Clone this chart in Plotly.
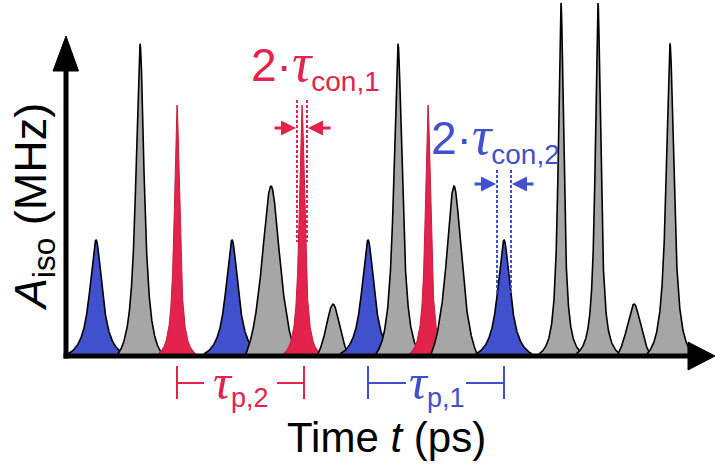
import numpy as np
import plotly.graph_objects as go

# ---------------- data ----------------
peak_time = [3.0, 7.4, 11.1, 16.6, 20.5, 23.6, 26.7, 30.2, 33.2, 36.2, 38.8, 43.8, 49.5, 53.2, 56.8, 60.4]
peak_amp = [11.4, 31.0, 24.9, 11.4, 16.8, 24.9, 5.0, 11.4, 31.0, 24.9, 16.8, 11.4, 35.1, 35.1, 5.0, 31.0]
peak_width = [0.75, 0.5, 0.32, 0.75, 1.2, 0.32, 1.0, 0.75, 0.5, 0.32, 1.0, 0.75, 0.32, 0.32, 1.0, 0.46]
peak_extent = [2.8, 2.2, 1.9, 2.8, 2.5, 1.9, 1.5, 2.8, 2.2, 1.9, 2.3, 2.8, 2.2, 2.2, 1.6, 2.3]
peak_kind = ["B", "G", "R", "B", "G", "R", "G", "B", "G", "R", "G", "B", "G", "G", "G", "G"]

con1_half = 0.5   # half of 2*tau_con,1 window
con2_half = 0.7   # half of 2*tau_con,2 window

# ---------------- styles ----------------
BLUE = "#4150CC"
RED = "#E4234C"
GRAY = "#A6A6A6"
FILL = {"B": BLUE, "G": GRAY, "R": RED}
EDGE = {"B": "black", "G": "black", "R": "#C41F40"}
FONT = "Liberation Sans, Arial, sans-serif"

fig = go.Figure()

for t0, a, g, e, k in zip(peak_time, peak_amp, peak_width, peak_extent, peak_kind):
    t = np.linspace(t0 - e, t0 + e, 801)
    L = 1.0 / (1.0 + ((t - t0) / g) ** 2)
    c = 1.0 / (1.0 + (e / g) ** 2)
    y = a * (L - c) / (1 - c)
    fig.add_trace(go.Scatter(
        x=t, y=y, mode="lines", fill="tozeroy", fillcolor=FILL[k],
        line=dict(color=EDGE[k], width=1.6 if k != "R" else 1.0),
        hoverinfo="skip", showlegend=False))

shapes = []
# axes with arrows
shapes.append(dict(type="line", x0=0, x1=0, y0=-0.45, y1=28.6, xref="x", yref="y",
                   line=dict(color="black", width=5)))
shapes.append(dict(type="path", path="M -1.3 28.3 L 1.25 28.3 L 0 31.8 Z", xref="x", yref="y",
                   fillcolor="black", line=dict(color="black", width=1)))
shapes.append(dict(type="line", x0=-0.25, x1=62.4, y0=-0.2, y1=-0.2, xref="x", yref="y",
                   line=dict(color="black", width=5)))
shapes.append(dict(type="path", path="M 62.2 1.2 L 62.2 -1.6 L 64.9 -0.2 Z", xref="x", yref="y",
                   fillcolor="black", line=dict(color="black", width=1)))

# tau_con dotted markers
r6 = peak_time[5]
b12 = peak_time[11]
for xv in (r6 - con1_half, r6 + con1_half):
    shapes.append(dict(type="line", x0=xv, x1=xv, y0=25.4, y1=11.2, xref="x", yref="y",
                       line=dict(color=RED, width=2, dash="3px,2px")))
for xv in (b12 - con2_half, b12 + con2_half):
    shapes.append(dict(type="line", x0=xv, x1=xv, y0=18.4, y1=5.9, xref="x", yref="y",
                       line=dict(color=BLUE, width=2, dash="3px,2px")))

# tau_p brackets
def bracket(t1, t2, gap, col, yb=-2.9):
    mid = (t1 + t2) / 2
    out = []
    for xv in (t1, t2):
        out.append(dict(type="line", x0=xv, x1=xv, y0=-1.2, y1=-4.5, xref="x", yref="y",
                        line=dict(color=col, width=2)))
    out.append(dict(type="line", x0=t1, x1=mid - gap, y0=yb, y1=yb, xref="x", yref="y",
                    line=dict(color=col, width=2)))
    out.append(dict(type="line", x0=mid + gap, x1=t2, y0=yb, y1=yb, xref="x", yref="y",
                    line=dict(color=col, width=2)))
    return out, mid

s2, mid2 = bracket(peak_time[2], peak_time[5] + 0.2, 3.65, RED)
s1, mid1 = bracket(peak_time[7], peak_time[11], 3.0, BLUE)
shapes += s2 + s1


def tau(size):
    return '<span style="font-family:Liberation Serif;font-size:%dpx"><i>τ</i></span>' % size


def sub(txt, size):
    return '<sub><span style="font-size:%dpx">%s</span></sub>' % (size, txt)


annotations = [
    dict(x=mid2, y=-2.9, xref="x", yref="y", text=tau(50) + sub("p,2", 27), showarrow=False,
         font=dict(family=FONT, size=36, color=RED), xanchor="center", yanchor="middle"),
    dict(x=mid1, y=-2.9, xref="x", yref="y", text=tau(50) + sub("p,1", 27), showarrow=False,
         font=dict(family=FONT, size=36, color=BLUE), xanchor="center", yanchor="middle"),
    dict(x=18.3, y=28.9, xref="x", yref="y", text="2·" + tau(54) + sub("con,1", 28), showarrow=False,
         font=dict(family=FONT, size=46, color=RED), xanchor="left", yanchor="middle"),
    dict(x=36.3, y=21.6, xref="x", yref="y", text="2·" + tau(54) + sub("con,2", 28), showarrow=False,
         font=dict(family=FONT, size=46, color=BLUE), xanchor="left", yanchor="middle"),
    dict(x=32.0, y=-8.3, xref="x", yref="y", text="Time <i>t</i> (ps)", showarrow=False,
         font=dict(family=FONT, size=42, color="black"), xanchor="center", yanchor="middle"),
    dict(x=-3.3, y=14.7, xref="x", yref="y", text="<i>A</i><sub>iso</sub> (MHz)", showarrow=False,
         textangle=-90, font=dict(family=FONT, size=45, color="black"),
         xanchor="center", yanchor="middle"),
]

# convergence arrows
for (x_from, x_to, yv, col) in [
    (r6 - 2.9, r6 - con1_half - 0.1, 22.6, RED),
    (r6 + 3.0, r6 + con1_half + 0.1, 22.6, RED),
    (b12 - 3.1, b12 - con2_half - 0.1, 17.0, BLUE),
    (b12 + 3.1, b12 + con2_half + 0.1, 17.0, BLUE),
]:
    annotations.append(dict(x=x_to, y=yv, ax=x_from, ay=yv, xref="x", yref="y", axref="x", ayref="y",
                            text="", showarrow=True, arrowhead=2, arrowsize=1, arrowwidth=3,
                            arrowcolor=col, standoff=0, startstandoff=0))

fig.update_layout(
    width=715, height=469,
    margin=dict(l=0, r=0, t=0, b=0),
    paper_bgcolor="white", plot_bgcolor="white",
    xaxis=dict(range=[-6.6, 64.9], visible=False, fixedrange=True),
    yaxis=dict(range=[-11.5, 35.4], visible=False, fixedrange=True),
    shapes=shapes, annotations=annotations, showlegend=False,
)

fig.write_html("out.html")
